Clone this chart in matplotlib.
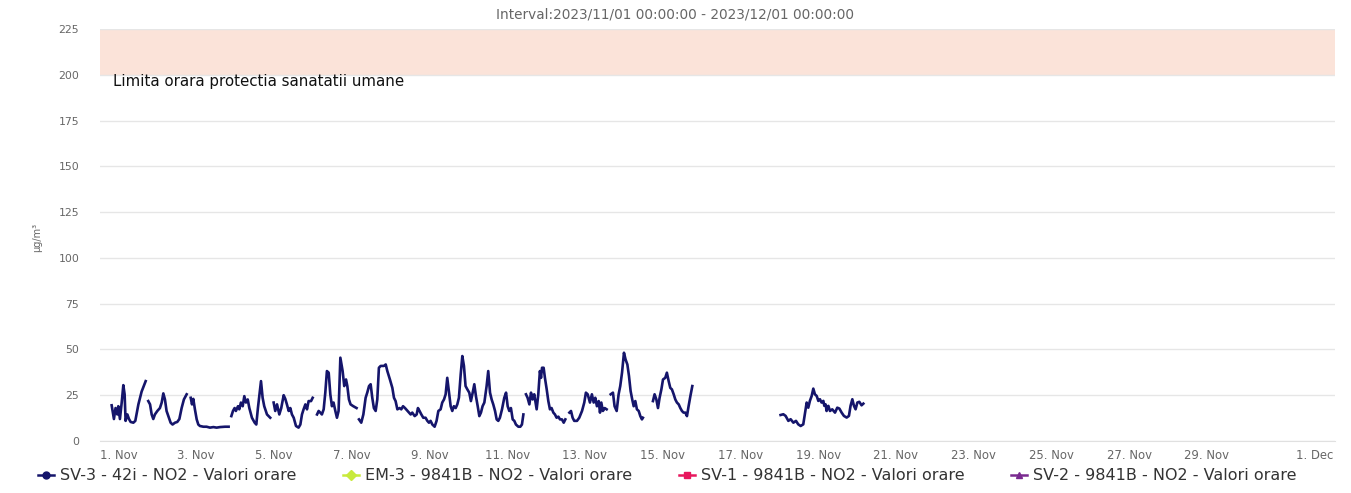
import numpy as np
import matplotlib
matplotlib.use("Agg")
import matplotlib.pyplot as plt
from matplotlib.lines import Line2D
from matplotlib.transforms import ScaledTranslation
import datetime as dt

# ---------------- data (hours after 2023-11-01 00:00, NO2 µg/m³) ----------------
seg1_h = [-4.2, -2.8, -1.8, -0.7, -0.1, 0.9, 2.0, 3.0, 3.8, 4.4, 5.5, 6.5, 7.5, 9.2, 10.4, 12.3, 14.3, 16.8]
seg1_v = [19.5, 12, 18, 14.5, 19, 12, 21, 30.5, 25.5, 11, 14.5, 12, 10.4, 10, 11, 20, 27, 32.7]
seg2_h = [18.4, 19.5, 20.5, 21.5, 22.5, 24.0, 25.6, 26.7, 27.7, 28.7, 29.7, 30.8, 32.2, 33.4, 34.9, 36.3, 37.6, 39.0, 40.4, 42.1]
seg2_v = [21.8, 20, 14.5, 12, 14.5, 16.4, 18, 21, 26, 22.7, 16.4, 13.6, 10, 9, 10, 10.4, 12, 18, 22.7, 25.5]
seg3_h = [44.6, 45.4, 46.2, 47.2, 48.3, 49.3, 50.3, 52.4, 54.4, 56.5, 58.6, 60.6, 62.7, 65.8, 68.0]
seg3_v = [23.6, 20, 23, 17.3, 11.8, 9, 8.2, 7.8, 7.8, 7.3, 7.6, 7.3, 7.6, 7.8, 7.8]
seg4_h = [69.7, 70.7, 71.7, 72.5, 73.8, 74.6, 75.6, 76.7, 77.7, 78.7, 79.8, 80.8, 82.4, 84.1, 85.1, 86.1, 87.2, 88.0, 89.0, 90.0, 91.7, 93.7]
seg4_v = [13.6, 16.4, 18, 16.4, 19, 17.3, 21, 19, 24.5, 21, 22.7, 18, 12.7, 10, 9, 18, 26.4, 32.7, 23.6, 19, 14.5, 12.7]
seg5_h = [95.8, 96.8, 97.9, 99.3, 100.5, 102.0, 103.0, 104.0, 105.1, 106.1, 107.1, 108.2, 109.6, 111.2, 112.3, 113.3, 114.3, 115.4, 116.4, 117.4, 118.9, 119.9]
seg5_v = [21, 16.4, 20, 14.5, 18, 25, 23, 20, 16.4, 18, 14.5, 12.7, 8.2, 7.3, 9, 14.5, 17.3, 20, 17.3, 21.8, 21.8, 23.6]
seg6_h = [122.6, 123.6, 124.6, 125.6, 126.7, 127.7, 128.7, 129.8, 130.8, 131.8, 132.8, 133.9, 134.9, 135.9, 137.0, 138.4, 139.4, 140.5, 141.3, 142.3, 143.3, 145.0, 147.0]
seg6_v = [14.5, 16.4, 15.5, 14.5, 17.3, 26.4, 38.2, 37.3, 25.5, 19, 21, 16.4, 12.7, 16.4, 45.5, 38.2, 30, 33.6, 30, 22.7, 20, 19, 18]
seg7_h = [148.5, 149.9, 151.2, 152.6, 153.6, 154.7, 155.7, 156.7, 157.7, 158.8,
          159.8, 160.8, 161.9, 163.9, 165.0, 166.0, 167.6, 169.1, 170.1, 171.1,
          172.2, 173.6, 174.6, 175.7, 176.9, 177.9, 179.4, 180.4, 181.4, 182.9,
          184.1, 184.9, 185.9, 187.0, 188.2, 189.6, 190.7, 191.7, 192.7, 193.8,
          195.2, 196.4, 197.5, 198.9, 199.9, 201.0, 202.0, 203.0, 204.1, 205.1,
          206.1, 207.1, 208.2, 209.2, 210.2, 211.3, 212.3, 213.3, 214.3, 215.4,
          216.6, 217.6, 218.7, 219.7, 220.7, 221.8, 222.8, 223.8, 224.8, 225.9,
          227.3, 228.3, 229.4, 230.4, 231.4, 232.5, 233.5, 234.5, 235.5, 236.8,
          238.2, 239.3, 240.3, 241.3, 242.3, 243.4, 244.4, 245.4, 246.9, 248.1,
          249.1, 250.0]
seg7_v = [11.8, 10, 14.5, 23.6, 26.4, 30, 31, 23.6, 18, 16.4,
          22.7, 40, 41, 41, 41.8, 38.2, 33.6, 29, 23.6, 21.8,
          17.3, 18, 17.3, 19, 18, 17, 15.5, 14.5, 15.5, 13.6,
          14.5, 18, 16.4, 14.5, 12.7, 12.7, 11, 10, 11, 9,
          7.8, 11, 16.4, 17.3, 21, 22.7, 25.5, 34.5, 26.4, 19,
          16.4, 19, 18, 20, 23.6, 36.4, 46.4, 41, 30, 28.2,
          26.4, 21.8, 26.4, 31, 24.5, 19, 13.6, 15.5, 19, 21,
          30, 38.2, 26.4, 22.7, 20, 16.4, 11.8, 11, 12.7, 17.3,
          23.6, 26.4, 19, 16.4, 18, 11.8, 11, 9, 7.8, 7.8,
          9, 14.5]
seg8_h = [251.6, 252.6, 253.7, 254.7, 255.7, 256.7, 258.2, 259.2, 260.2, 260.9, 261.5, 262.5, 263.3, 264.4, 265.4,
          266.4, 267.4, 268.5, 269.5, 270.5, 271.6, 272.6, 273.8, 274.9, 275.9]
seg8_v = [25.5, 23.6, 20, 26.4, 22.7, 25.5, 17.3, 25.5, 38.2, 34.5, 40, 40, 34.5, 28.2, 21.8,
          17.3, 18, 15.5, 14.5, 12.7, 13.3, 11.8, 11.8, 10, 11.8]
seg9_h = [278.4, 279.4, 280.4, 281.4, 283.1, 284.5, 286.2, 287.6, 288.6, 289.7, 291.1, 292.3, 293.4, 294.4, 295.4,
          296.5, 297.3, 298.1, 299.1, 300.2, 301.4]
seg9_v = [15.5, 16.4, 12.7, 11, 11, 12.7, 16.4, 21, 26.4, 25.5, 21, 25.5, 21, 23.6, 19,
          21.8, 15.5, 21, 16.4, 18, 17.3]
seg10_h = [303.9, 305.3, 306.3, 307.6, 308.8, 309.8, 310.9, 312.1, 313.1, 314.2,
           315.2, 316.2, 317.2, 318.1, 319.1, 320.1, 321.2, 322.2, 323.2, 323.8]
seg10_v = [25.5, 26.4, 19, 16.4, 25.5, 30, 37.3, 48.2, 44.5, 41.8,
           35.5, 27.3, 22.7, 19, 21.8, 17.3, 16.4, 13.6, 11.8, 12.7]
seg11_h = [330.0, 331.0, 332.1, 333.1, 334.1, 335.2, 336.2, 337.6, 338.6, 339.7,
           340.7, 341.7, 342.8, 343.8, 344.8, 345.9, 346.9, 347.9, 348.9, 350.0,
           351.0, 352.0, 353.1, 354.3]
seg11_v = [21.8, 25.5, 22.7, 18, 23.6, 28.2, 33.6, 34.5, 37.3, 32.7,
           29, 28.2, 25.5, 22.7, 21, 20, 18, 16.4, 15.5, 15.5,
           13.6, 19, 24.5, 30]
seg12_h = [408.8, 410.5, 411.9, 413.6, 415.0, 416.7, 418.3, 419.7, 421.2, 422.8,
           423.9, 424.9, 425.9, 426.9, 428.0, 429.0, 430.0, 431.1, 432.1, 433.1,
           434.1, 435.2, 435.8, 436.6, 437.2, 438.3, 439.3, 440.7, 442.4, 443.8,
           445.1, 446.5, 447.9, 449.6, 451.0, 452.0, 453.1, 454.1, 455.1, 456.2,
           457.4, 458.8, 459.9]
seg12_v = [14.2, 14.6, 13.7, 11, 11.9, 10, 11, 9.1, 8.2, 9.1,
           15.5, 21, 18.2, 21.9, 24.6, 28.6, 25.5, 24.6, 21.9, 22.8,
           21, 21.9, 19.2, 20, 16.4, 19.2, 16.4, 17.3, 15.5, 18.2,
           17.7, 15.5, 13.7, 12.8, 13.7, 19.2, 22.8, 19.2, 17.3, 21,
           21.4, 19.5, 20.4]

series_names = ["SV-3 - 42i - NO2 - Valori orare", "EM-3 - 9841B - NO2 - Valori orare",
                "SV-1 - 9841B - NO2 - Valori orare", "SV-2 - 9841B - NO2 - Valori orare"]
series_colors = ["#15156b", "#c8ea3c", "#e8175d", "#7a2a90"]
series_markers = ["o", "D", "s", "^"]

limit_low, limit_high = 200, 225
limit_label = "Limita orara protectia sanatatii umane"
title_text = "Interval:2023/11/01 00:00:00 - 2023/12/01 00:00:00"
y_ticks = [0, 25, 50, 75, 100, 125, 150, 175, 200, 225]

# ---------------- assemble ----------------
base = dt.datetime(2023, 11, 1)
segs = [(seg1_h, seg1_v), (seg2_h, seg2_v), (seg3_h, seg3_v), (seg4_h, seg4_v),
        (seg5_h, seg5_v), (seg6_h, seg6_v), (seg7_h, seg7_v), (seg8_h, seg8_v),
        (seg9_h, seg9_v), (seg10_h, seg10_v), (seg11_h, seg11_v), (seg12_h, seg12_v)]
hours, vals = [], []
for h, v in segs:
    if hours:
        hours.append(h[0] - 0.5)
        vals.append(np.nan)
    hours.extend(h)
    vals.extend(v)
times = [base + dt.timedelta(hours=x) for x in hours]

plt.rcParams["font.family"] = ["DejaVu Sans"]

W, H = 1351, 493
fig = plt.figure(figsize=(W / 100, H / 100), dpi=100)
left, right, top, bottom = 100, 1335, 29, 441
ax = fig.add_axes([left / W, 1 - bottom / H, (right - left) / W, (bottom - top) / H])

ax.axhspan(limit_low, limit_high, color="#fbe3d9", zorder=0, lw=0)
ax.plot(times, vals, color=series_colors[0], lw=1.9, zorder=3, solid_joinstyle="round")

ax.set_ylim(0, 225)
ax.set_yticks(y_ticks)
x0 = base + dt.timedelta(hours=-11.4)
x1 = base + dt.timedelta(hours=751.1)
ax.set_xlim(x0, x1)

tick_days = [base + dt.timedelta(days=d) for d in range(0, 30, 2)] + [dt.datetime(2023, 12, 1)]
ax.set_xticks(tick_days)
ax.set_xticklabels([f"{d.day}. {d.strftime('%b')}" for d in tick_days])

ax.grid(axis="y", color="#e6e6e6", lw=1)
ax.set_axisbelow(True)
for s in ["top", "right", "left"]:
    ax.spines[s].set_visible(False)
ax.spines["bottom"].set_color("#e0e0e0")
ax.tick_params(axis="x", length=0, pad=6, labelsize=8.4, labelcolor="#666666")
ax.tick_params(axis="y", length=0, pad=15, labelsize=7.8, labelcolor="#666666")

# justify last x label inside the plot like the original
lbls = ax.get_xticklabels()
lbls[-1].set_transform(lbls[-1].get_transform() + ScaledTranslation(30 / 100, 0, fig.dpi_scale_trans))

ax.text(13 / (right - left), (200 + 0.5) / 225, limit_label, transform=ax.transAxes,
        fontsize=10.8, color="#111111", va="top", ha="left")

fig.text(0.5, 1 - 14 / H, title_text, ha="center", va="center", fontsize=9.8, color="#666666")
fig.text(37 / W, 1 - 237 / H, "µg/m³", rotation=90, ha="center", va="center", fontsize=7, color="#666666")

handles = [Line2D([0], [0], color=c, lw=1.8, marker=m, markersize=5, markerfacecolor=c, markeredgecolor=c)
           for c, m in zip(series_colors, series_markers)]
fig.legend(handles, series_names, loc="center", bbox_to_anchor=(0.494, 1 - 476 / H), ncol=4,
           frameon=False, fontsize=11.5, labelcolor="#333333", handlelength=1.0, handletextpad=0.4,
           columnspacing=2.9)

fig.savefig("out.png", dpi=100)
